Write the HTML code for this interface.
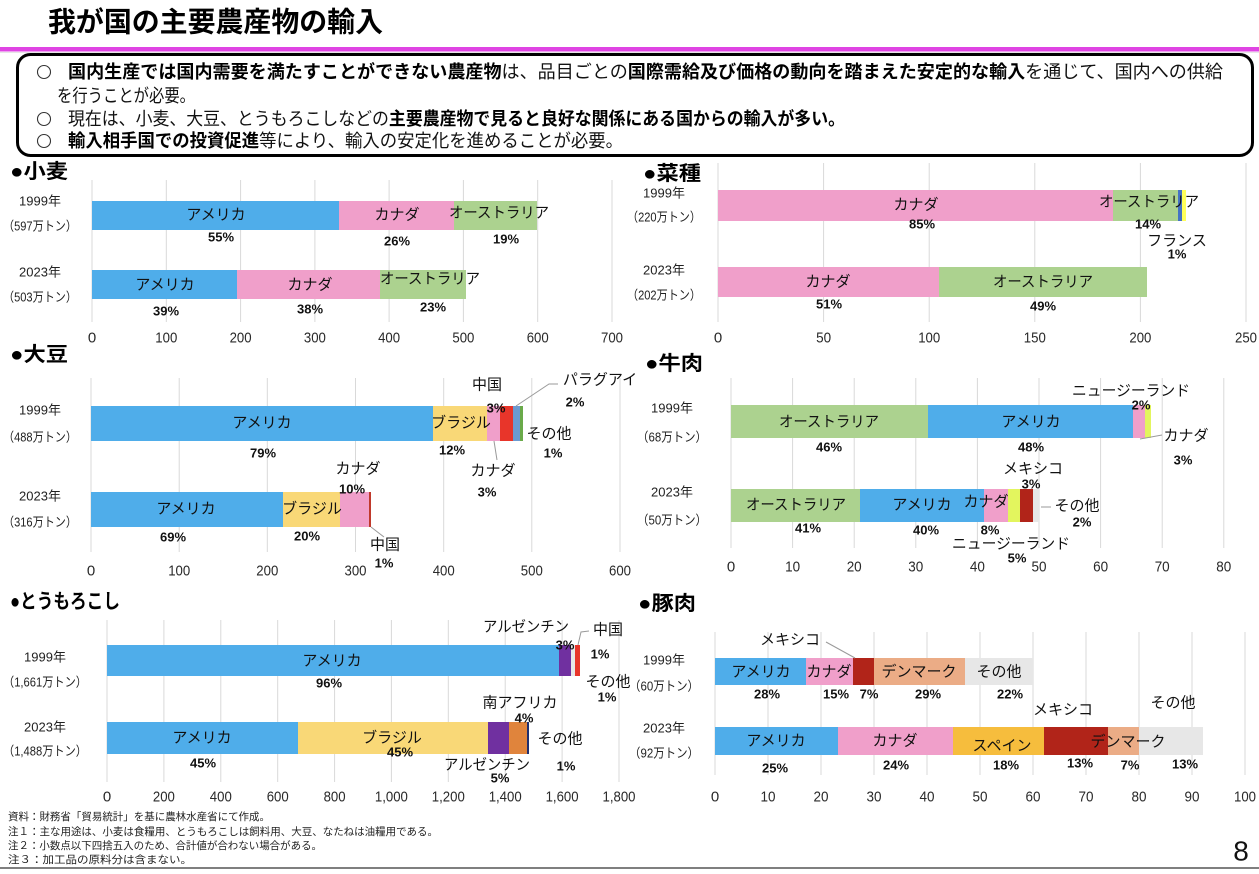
<!DOCTYPE html>
<html lang="ja">
<head>
<meta charset="utf-8">
<style>
  html,body{margin:0;padding:0;background:#fff;}
  body{width:1259px;height:874px;overflow:hidden;}
  svg{display:block;}
  text{font-family:"Liberation Sans","Noto Sans CJK JP",sans-serif;fill:#111;}
  .c{text-anchor:middle;dominant-baseline:central;}
  .m{dominant-baseline:central;}
  .bl{font-size:15px;}
  .pc{font-size:13px;font-weight:bold;}
  .yl{font-size:13px;fill:#222;}
  .tk{font-size:15px;fill:#2a2a2a;}
  .st{font-size:20px;font-weight:bold;fill:#000;}
  .hd{font-size:18px;}
  .b{font-weight:bold;fill:#000;}
  .ft{font-size:10.5px;fill:#222;}
  .g line{stroke:#d9d9d9;stroke-width:1;}
  .ld{stroke:#9a9a9a;stroke-width:1;fill:none;}
</style>
</head>
<body>
<svg width="1259" height="874" viewBox="0 0 1259 874" xmlns="http://www.w3.org/2000/svg">
<rect x="0" y="0" width="1259" height="874" fill="#fff"/>

<!-- ===== Header ===== -->
<text class="m" x="48" y="22" font-size="28" font-weight="bold" textLength="335" lengthAdjust="spacingAndGlyphs" style="fill:#000">我が国の主要農産物の輸入</text>
<rect x="0" y="47" width="1259" height="4.5" fill="#df44e3"/>
<rect x="0" y="52" width="1259" height="1" fill="#e6e6e6"/>
<rect x="17.5" y="54.5" width="1235" height="101" rx="13" ry="13" fill="#fff" stroke="#000" stroke-width="3"/>

<circle cx="44" cy="72" r="6.5" fill="none" stroke="#333" stroke-width="1.1"/>
<circle cx="44" cy="119" r="6.5" fill="none" stroke="#333" stroke-width="1.1"/>
<circle cx="44" cy="141" r="6.5" fill="none" stroke="#333" stroke-width="1.1"/>

<text class="hd m" x="68" y="72" textLength="1155" lengthAdjust="spacingAndGlyphs"><tspan class="b">国内生産では国内需要を満たすことができない農産物</tspan>は、品目ごとの<tspan class="b">国際需給及び価格の動向を踏まえた安定的な輸入</tspan>を通じて、国内への供給</text>
<text class="hd m" x="57" y="96" textLength="138" lengthAdjust="spacingAndGlyphs">を行うことが必要。</text>
<text class="hd m" x="68" y="119" textLength="777" lengthAdjust="spacingAndGlyphs">現在は、小麦、大豆、とうもろこしなどの<tspan class="b">主要農産物で見ると良好な関係にある国からの輸入が多い。</tspan></text>
<text class="hd m" x="68" y="141" textLength="555" lengthAdjust="spacingAndGlyphs"><tspan class="b">輸入相手国での投資促進</tspan>等により、輸入の安定化を進めることが必要。</text>

<!-- ===== Wheat 小麦 ===== -->
<text class="st m" x="10" y="172" textLength="58" lengthAdjust="spacingAndGlyphs">●小麦</text>
<g class="g">
<line x1="92" y1="180" x2="92" y2="322"/><line x1="166.3" y1="180" x2="166.3" y2="322"/><line x1="240.6" y1="180" x2="240.6" y2="322"/><line x1="314.9" y1="180" x2="314.9" y2="322"/><line x1="389.1" y1="180" x2="389.1" y2="322"/><line x1="463.4" y1="180" x2="463.4" y2="322"/><line x1="537.7" y1="180" x2="537.7" y2="322"/><line x1="612" y1="180" x2="612" y2="322"/>
</g>
<rect x="92" y="201" width="247" height="29" fill="#4fadea"/>
<rect x="339" y="201" width="115" height="29" fill="#f09fca"/>
<rect x="454" y="201" width="83" height="29" fill="#acd28f"/>
<rect x="92" y="270" width="145" height="29" fill="#4fadea"/>
<rect x="237" y="270" width="143" height="29" fill="#f09fca"/>
<rect x="380" y="270" width="86" height="29" fill="#acd28f"/>
<text class="yl c" x="40" y="201">1999年</text>
<text class="yl c" x="40" y="226" textLength="74" lengthAdjust="spacingAndGlyphs">（597万トン）</text>
<text class="yl c" x="40" y="272">2023年</text>
<text class="yl c" x="40" y="297" textLength="74" lengthAdjust="spacingAndGlyphs">（503万トン）</text>
<text class="bl c" x="216" y="215">アメリカ</text>
<text class="bl c" x="397" y="215">カナダ</text>
<text class="bl c" x="499" y="213" textLength="100" lengthAdjust="spacingAndGlyphs">オーストラリア</text>
<text class="bl c" x="165" y="285">アメリカ</text>
<text class="bl c" x="310" y="285">カナダ</text>
<text class="bl c" x="430" y="279" textLength="100" lengthAdjust="spacingAndGlyphs">オーストラリア</text>
<text class="pc c" x="221" y="237">55%</text>
<text class="pc c" x="397" y="241">26%</text>
<text class="pc c" x="506" y="239">19%</text>
<text class="pc c" x="166" y="311">39%</text>
<text class="pc c" x="310" y="309">38%</text>
<text class="pc c" x="433" y="307">23%</text>
<g>
<text class="tk c" x="92" y="338">0</text>
<text class="tk c" x="166.3" y="338" textLength="22" lengthAdjust="spacingAndGlyphs">100</text>
<text class="tk c" x="240.6" y="338" textLength="22" lengthAdjust="spacingAndGlyphs">200</text>
<text class="tk c" x="314.9" y="338" textLength="22" lengthAdjust="spacingAndGlyphs">300</text>
<text class="tk c" x="389.1" y="338" textLength="22" lengthAdjust="spacingAndGlyphs">400</text>
<text class="tk c" x="463.4" y="338" textLength="22" lengthAdjust="spacingAndGlyphs">500</text>
<text class="tk c" x="537.7" y="338" textLength="22" lengthAdjust="spacingAndGlyphs">600</text>
<text class="tk c" x="612" y="338" textLength="22" lengthAdjust="spacingAndGlyphs">700</text>
</g>

<!-- ===== Rapeseed 菜種 ===== -->
<text class="st m" x="643" y="174" textLength="58" lengthAdjust="spacingAndGlyphs">●菜種</text>
<g class="g">
<line x1="718" y1="163" x2="718" y2="322"/><line x1="823.6" y1="163" x2="823.6" y2="322"/><line x1="929.2" y1="163" x2="929.2" y2="322"/><line x1="1034.8" y1="163" x2="1034.8" y2="322"/><line x1="1140.4" y1="163" x2="1140.4" y2="322"/><line x1="1246" y1="163" x2="1246" y2="322"/>
</g>
<rect x="718" y="190" width="395" height="31" fill="#f09fca"/>
<rect x="1113" y="190" width="65" height="31" fill="#acd28f"/>
<rect x="1178" y="190" width="4" height="31" fill="#4472c4"/>
<rect x="1182" y="190" width="4" height="31" fill="#ffff5a"/>
<rect x="718" y="267" width="221" height="30" fill="#f09fca"/>
<rect x="939" y="267" width="208" height="30" fill="#acd28f"/>
<text class="yl c" x="664" y="193">1999年</text>
<text class="yl c" x="664" y="217" textLength="74" lengthAdjust="spacingAndGlyphs">（220万トン）</text>
<text class="yl c" x="664" y="270">2023年</text>
<text class="yl c" x="664" y="295" textLength="74" lengthAdjust="spacingAndGlyphs">（202万トン）</text>
<text class="bl c" x="916" y="205">カナダ</text>
<text class="bl c" x="1149" y="202" textLength="100" lengthAdjust="spacingAndGlyphs">オーストラリア</text>
<text class="bl c" x="1177" y="241">フランス</text>
<text class="bl c" x="828" y="282">カナダ</text>
<text class="bl c" x="1043" y="282" textLength="100" lengthAdjust="spacingAndGlyphs">オーストラリア</text>
<text class="pc c" x="922" y="224">85%</text>
<text class="pc c" x="1148" y="224">14%</text>
<text class="pc c" x="1177" y="254">1%</text>
<text class="pc c" x="829" y="304">51%</text>
<text class="pc c" x="1043" y="306">49%</text>
<g>
<text class="tk c" x="718" y="338">0</text>
<text class="tk c" x="823.6" y="338" textLength="15" lengthAdjust="spacingAndGlyphs">50</text>
<text class="tk c" x="929.2" y="338" textLength="22" lengthAdjust="spacingAndGlyphs">100</text>
<text class="tk c" x="1034.8" y="338" textLength="22" lengthAdjust="spacingAndGlyphs">150</text>
<text class="tk c" x="1140.4" y="338" textLength="22" lengthAdjust="spacingAndGlyphs">200</text>
<text class="tk c" x="1246" y="338" textLength="22" lengthAdjust="spacingAndGlyphs">250</text>
</g>

<!-- ===== Soybean 大豆 ===== -->
<text class="st m" x="10" y="355" textLength="58" lengthAdjust="spacingAndGlyphs">●大豆</text>
<g class="g">
<line x1="91" y1="378" x2="91" y2="552"/><line x1="179.2" y1="378" x2="179.2" y2="552"/><line x1="267.3" y1="378" x2="267.3" y2="552"/><line x1="355.5" y1="378" x2="355.5" y2="552"/><line x1="443.7" y1="378" x2="443.7" y2="552"/><line x1="531.8" y1="378" x2="531.8" y2="552"/><line x1="620" y1="378" x2="620" y2="552"/>
</g>
<rect x="91" y="406" width="342" height="35" fill="#4fadea"/>
<rect x="433" y="406" width="54" height="35" fill="#f9d877"/>
<rect x="487" y="406" width="13" height="35" fill="#f09fca"/>
<rect x="500" y="406" width="13" height="35" fill="#e8352a"/>
<rect x="513" y="406" width="7" height="35" fill="#6b9bd1"/>
<rect x="520" y="406" width="3" height="35" fill="#6aaa4a"/>
<rect x="91" y="492" width="192" height="35" fill="#4fadea"/>
<rect x="283" y="492" width="57" height="35" fill="#f9d877"/>
<rect x="340" y="492" width="29" height="35" fill="#f09fca"/>
<rect x="369" y="492" width="2" height="35" fill="#c0392b"/>
<text class="yl c" x="40" y="410">1999年</text>
<text class="yl c" x="40" y="437" textLength="74" lengthAdjust="spacingAndGlyphs">（488万トン）</text>
<text class="yl c" x="40" y="496">2023年</text>
<text class="yl c" x="40" y="522" textLength="74" lengthAdjust="spacingAndGlyphs">（316万トン）</text>
<text class="bl c" x="262" y="423">アメリカ</text>
<text class="bl c" x="461" y="423">ブラジル</text>
<text class="bl c" x="487" y="385">中国</text>
<text class="bl c" x="600" y="380">パラグアイ</text>
<text class="bl c" x="549" y="434">その他</text>
<text class="bl c" x="493" y="471">カナダ</text>
<text class="bl c" x="186" y="509">アメリカ</text>
<text class="bl c" x="312" y="509">ブラジル</text>
<text class="bl c" x="358" y="469">カナダ</text>
<text class="bl c" x="385" y="545">中国</text>
<text class="pc c" x="263" y="453">79%</text>
<text class="pc c" x="452" y="450">12%</text>
<text class="pc c" x="496" y="408">3%</text>
<text class="pc c" x="575" y="402">2%</text>
<text class="pc c" x="553" y="453">1%</text>
<text class="pc c" x="487" y="492">3%</text>
<text class="pc c" x="173" y="537">69%</text>
<text class="pc c" x="307" y="536">20%</text>
<text class="pc c" x="352" y="489">10%</text>
<text class="pc c" x="384" y="563">1%</text>
<polyline class="ld" points="516,406 549,384 558,384"/>
<line class="ld" x1="494" y1="441" x2="497" y2="460"/>
<line class="ld" x1="371" y1="527" x2="384" y2="537"/>
<g>
<text class="tk c" x="91" y="571">0</text>
<text class="tk c" x="179.2" y="571" textLength="22" lengthAdjust="spacingAndGlyphs">100</text>
<text class="tk c" x="267.3" y="571" textLength="22" lengthAdjust="spacingAndGlyphs">200</text>
<text class="tk c" x="355.5" y="571" textLength="22" lengthAdjust="spacingAndGlyphs">300</text>
<text class="tk c" x="443.7" y="571" textLength="22" lengthAdjust="spacingAndGlyphs">400</text>
<text class="tk c" x="531.8" y="571" textLength="22" lengthAdjust="spacingAndGlyphs">500</text>
<text class="tk c" x="620" y="571" textLength="22" lengthAdjust="spacingAndGlyphs">600</text>
</g>

<!-- ===== Beef 牛肉 ===== -->
<text class="st m" x="645" y="364" textLength="58" lengthAdjust="spacingAndGlyphs">●牛肉</text>
<g class="g">
<line x1="731" y1="378" x2="731" y2="548"/><line x1="792.6" y1="378" x2="792.6" y2="548"/><line x1="854.2" y1="378" x2="854.2" y2="548"/><line x1="915.8" y1="378" x2="915.8" y2="548"/><line x1="977.4" y1="378" x2="977.4" y2="548"/><line x1="1039" y1="378" x2="1039" y2="548"/><line x1="1100.6" y1="378" x2="1100.6" y2="548"/><line x1="1162.2" y1="378" x2="1162.2" y2="548"/><line x1="1223.8" y1="378" x2="1223.8" y2="548"/>
</g>
<rect x="731" y="405" width="197" height="33" fill="#acd28f"/>
<rect x="928" y="405" width="205" height="33" fill="#4fadea"/>
<rect x="1133" y="405" width="12" height="33" fill="#f09fca"/>
<rect x="1145" y="405" width="6" height="33" fill="#e3f55e"/>
<rect x="731" y="489" width="129" height="33" fill="#acd28f"/>
<rect x="860" y="489" width="124" height="33" fill="#4fadea"/>
<rect x="984" y="489" width="24" height="33" fill="#f09fca"/>
<rect x="1008" y="489" width="12" height="33" fill="#e3f55e"/>
<rect x="1020" y="489" width="13" height="33" fill="#b12419"/>
<rect x="1033" y="489" width="6" height="33" fill="#e7e7e7"/>
<text class="yl c" x="672" y="408">1999年</text>
<text class="yl c" x="672" y="437" textLength="70" lengthAdjust="spacingAndGlyphs">（68万トン）</text>
<text class="yl c" x="672" y="492">2023年</text>
<text class="yl c" x="672" y="520" textLength="70" lengthAdjust="spacingAndGlyphs">（50万トン）</text>
<text class="bl c" x="829" y="422" textLength="100" lengthAdjust="spacingAndGlyphs">オーストラリア</text>
<text class="bl c" x="1031" y="422">アメリカ</text>
<text class="bl c" x="1131" y="391" textLength="118" lengthAdjust="spacingAndGlyphs">ニュージーランド</text>
<text class="bl c" x="1186" y="436">カナダ</text>
<text class="bl c" x="796" y="505" textLength="100" lengthAdjust="spacingAndGlyphs">オーストラリア</text>
<text class="bl c" x="922" y="505">アメリカ</text>
<text class="bl c" x="986" y="502">カナダ</text>
<text class="bl c" x="1033" y="469">メキシコ</text>
<text class="bl c" x="1077" y="506">その他</text>
<text class="bl c" x="1011" y="544" textLength="118" lengthAdjust="spacingAndGlyphs">ニュージーランド</text>
<text class="pc c" x="829" y="447">46%</text>
<text class="pc c" x="1031" y="447">48%</text>
<text class="pc c" x="1141" y="405">2%</text>
<text class="pc c" x="1183" y="460">3%</text>
<text class="pc c" x="808" y="528">41%</text>
<text class="pc c" x="926" y="530">40%</text>
<text class="pc c" x="990" y="530">8%</text>
<text class="pc c" x="1031" y="484">3%</text>
<text class="pc c" x="1082" y="522">2%</text>
<text class="pc c" x="1017" y="558">5%</text>
<line class="ld" x1="1140" y1="439" x2="1162" y2="435"/>
<line class="ld" x1="1041" y1="507" x2="1051" y2="507"/>
<g>
<text class="tk c" x="731" y="567">0</text>
<text class="tk c" x="792.6" y="567" textLength="15" lengthAdjust="spacingAndGlyphs">10</text>
<text class="tk c" x="854.2" y="567" textLength="15" lengthAdjust="spacingAndGlyphs">20</text>
<text class="tk c" x="915.8" y="567" textLength="15" lengthAdjust="spacingAndGlyphs">30</text>
<text class="tk c" x="977.4" y="567" textLength="15" lengthAdjust="spacingAndGlyphs">40</text>
<text class="tk c" x="1039" y="567" textLength="15" lengthAdjust="spacingAndGlyphs">50</text>
<text class="tk c" x="1100.6" y="567" textLength="15" lengthAdjust="spacingAndGlyphs">60</text>
<text class="tk c" x="1162.2" y="567" textLength="15" lengthAdjust="spacingAndGlyphs">70</text>
<text class="tk c" x="1223.8" y="567" textLength="15" lengthAdjust="spacingAndGlyphs">80</text>
</g>

<!-- ===== Corn とうもろこし ===== -->
<text class="st m" x="10" y="602" textLength="110" lengthAdjust="spacingAndGlyphs">●とうもろこし</text>
<g class="g">
<line x1="107" y1="620" x2="107" y2="782"/><line x1="163.9" y1="620" x2="163.9" y2="782"/><line x1="220.8" y1="620" x2="220.8" y2="782"/><line x1="277.7" y1="620" x2="277.7" y2="782"/><line x1="334.6" y1="620" x2="334.6" y2="782"/><line x1="391.4" y1="620" x2="391.4" y2="782"/><line x1="448.3" y1="620" x2="448.3" y2="782"/><line x1="505.2" y1="620" x2="505.2" y2="782"/><line x1="562.1" y1="620" x2="562.1" y2="782"/><line x1="619" y1="620" x2="619" y2="782"/>
</g>
<rect x="107" y="645" width="452" height="31" fill="#4fadea"/>
<rect x="559" y="645" width="12" height="31" fill="#7030a0"/>
<rect x="571" y="645" width="4" height="31" fill="#e7e7e7"/>
<rect x="575" y="645" width="5" height="31" fill="#e8352a"/>
<rect x="107" y="722" width="191" height="32" fill="#4fadea"/>
<rect x="298" y="722" width="190" height="32" fill="#f9d877"/>
<rect x="488" y="722" width="21" height="32" fill="#7030a0"/>
<rect x="509" y="722" width="18" height="32" fill="#e0843c"/>
<rect x="527" y="722" width="2" height="32" fill="#203070"/>
<text class="yl c" x="45" y="657">1999年</text>
<text class="yl c" x="45" y="682" textLength="84" lengthAdjust="spacingAndGlyphs">（1,661万トン）</text>
<text class="yl c" x="45" y="727">2023年</text>
<text class="yl c" x="45" y="751" textLength="84" lengthAdjust="spacingAndGlyphs">（1,488万トン）</text>
<text class="bl c" x="332" y="661">アメリカ</text>
<text class="bl c" x="526" y="627" textLength="86" lengthAdjust="spacingAndGlyphs">アルゼンチン</text>
<text class="bl c" x="608" y="630">中国</text>
<text class="bl c" x="608" y="682">その他</text>
<text class="bl c" x="202" y="738">アメリカ</text>
<text class="bl c" x="392" y="738">ブラジル</text>
<text class="bl c" x="520" y="703" textLength="75" lengthAdjust="spacingAndGlyphs">南アフリカ</text>
<text class="bl c" x="560" y="739">その他</text>
<text class="bl c" x="487" y="765" textLength="86" lengthAdjust="spacingAndGlyphs">アルゼンチン</text>
<text class="pc c" x="329" y="683">96%</text>
<text class="pc c" x="565" y="645">3%</text>
<text class="pc c" x="600" y="654">1%</text>
<text class="pc c" x="607" y="697">1%</text>
<text class="pc c" x="203" y="763">45%</text>
<text class="pc c" x="400" y="752">45%</text>
<text class="pc c" x="524" y="718">4%</text>
<text class="pc c" x="566" y="766">1%</text>
<text class="pc c" x="500" y="778">5%</text>
<polyline class="ld" points="578,645 581,632 589,631"/>
<g>
<text class="tk c" x="107" y="797">0</text>
<text class="tk c" x="163.9" y="797" textLength="22" lengthAdjust="spacingAndGlyphs">200</text>
<text class="tk c" x="220.8" y="797" textLength="22" lengthAdjust="spacingAndGlyphs">400</text>
<text class="tk c" x="277.7" y="797" textLength="22" lengthAdjust="spacingAndGlyphs">600</text>
<text class="tk c" x="334.6" y="797" textLength="22" lengthAdjust="spacingAndGlyphs">800</text>
<text class="tk c" x="391.4" y="797" textLength="33" lengthAdjust="spacingAndGlyphs">1,000</text>
<text class="tk c" x="448.3" y="797" textLength="33" lengthAdjust="spacingAndGlyphs">1,200</text>
<text class="tk c" x="505.2" y="797" textLength="33" lengthAdjust="spacingAndGlyphs">1,400</text>
<text class="tk c" x="562.1" y="797" textLength="33" lengthAdjust="spacingAndGlyphs">1,600</text>
<text class="tk c" x="619" y="797" textLength="33" lengthAdjust="spacingAndGlyphs">1,800</text>
</g>

<!-- ===== Pork 豚肉 ===== -->
<text class="st m" x="638" y="604" textLength="58" lengthAdjust="spacingAndGlyphs">●豚肉</text>
<g class="g">
<line x1="715" y1="632" x2="715" y2="775"/><line x1="768" y1="632" x2="768" y2="775"/><line x1="821" y1="632" x2="821" y2="775"/><line x1="874" y1="632" x2="874" y2="775"/><line x1="927" y1="632" x2="927" y2="775"/><line x1="980" y1="632" x2="980" y2="775"/><line x1="1033" y1="632" x2="1033" y2="775"/><line x1="1086" y1="632" x2="1086" y2="775"/><line x1="1139" y1="632" x2="1139" y2="775"/><line x1="1192" y1="632" x2="1192" y2="775"/><line x1="1245" y1="632" x2="1245" y2="775"/>
</g>
<rect x="715" y="658" width="91" height="27" fill="#4fadea"/>
<rect x="806" y="658" width="47" height="27" fill="#f09fca"/>
<rect x="853" y="658" width="21" height="27" fill="#b12419"/>
<rect x="874" y="658" width="91" height="27" fill="#ebac86"/>
<rect x="965" y="658" width="68" height="27" fill="#e7e7e7"/>
<rect x="715" y="727" width="123" height="28" fill="#4fadea"/>
<rect x="838" y="727" width="115" height="28" fill="#f09fca"/>
<rect x="953" y="727" width="91" height="28" fill="#f6bd3d"/>
<rect x="1044" y="727" width="64" height="28" fill="#b12419"/>
<rect x="1108" y="727" width="31" height="28" fill="#ebac86"/>
<rect x="1139" y="727" width="64" height="28" fill="#e7e7e7"/>
<text class="yl c" x="664" y="660">1999年</text>
<text class="yl c" x="664" y="686" textLength="70" lengthAdjust="spacingAndGlyphs">（60万トン）</text>
<text class="yl c" x="664" y="728">2023年</text>
<text class="yl c" x="664" y="753" textLength="70" lengthAdjust="spacingAndGlyphs">（92万トン）</text>
<text class="bl c" x="761" y="672">アメリカ</text>
<text class="bl c" x="829" y="672">カナダ</text>
<text class="bl c" x="919" y="672">デンマーク</text>
<text class="bl c" x="999" y="672">その他</text>
<text class="bl c" x="790" y="640">メキシコ</text>
<text class="bl c" x="776" y="741">アメリカ</text>
<text class="bl c" x="895" y="741">カナダ</text>
<text class="bl c" x="1002" y="746">スペイン</text>
<text class="bl c" x="1128" y="742">デンマーク</text>
<text class="bl c" x="1063" y="710">メキシコ</text>
<text class="bl c" x="1173" y="703">その他</text>
<text class="pc c" x="767" y="694">28%</text>
<text class="pc c" x="836" y="694">15%</text>
<text class="pc c" x="869" y="694">7%</text>
<text class="pc c" x="928" y="694">29%</text>
<text class="pc c" x="1010" y="694">22%</text>
<text class="pc c" x="775" y="768">25%</text>
<text class="pc c" x="896" y="765">24%</text>
<text class="pc c" x="1006" y="765">18%</text>
<text class="pc c" x="1080" y="763">13%</text>
<text class="pc c" x="1130" y="765">7%</text>
<text class="pc c" x="1185" y="764">13%</text>
<line class="ld" x1="826" y1="642" x2="855" y2="658"/>
<g>
<text class="tk c" x="715" y="797">0</text>
<text class="tk c" x="768" y="797" textLength="15" lengthAdjust="spacingAndGlyphs">10</text>
<text class="tk c" x="821" y="797" textLength="15" lengthAdjust="spacingAndGlyphs">20</text>
<text class="tk c" x="874" y="797" textLength="15" lengthAdjust="spacingAndGlyphs">30</text>
<text class="tk c" x="927" y="797" textLength="15" lengthAdjust="spacingAndGlyphs">40</text>
<text class="tk c" x="980" y="797" textLength="15" lengthAdjust="spacingAndGlyphs">50</text>
<text class="tk c" x="1033" y="797" textLength="15" lengthAdjust="spacingAndGlyphs">60</text>
<text class="tk c" x="1086" y="797" textLength="15" lengthAdjust="spacingAndGlyphs">70</text>
<text class="tk c" x="1139" y="797" textLength="15" lengthAdjust="spacingAndGlyphs">80</text>
<text class="tk c" x="1192" y="797" textLength="15" lengthAdjust="spacingAndGlyphs">90</text>
<text class="tk c" x="1245" y="797" textLength="22" lengthAdjust="spacingAndGlyphs">100</text>
</g>

<!-- ===== Footer ===== -->
<text class="ft m" x="8" y="817" textLength="262" lengthAdjust="spacingAndGlyphs">資料：財務省「貿易統計」を基に農林水産省にて作成。</text>
<text class="ft m" x="8" y="832" textLength="430" lengthAdjust="spacingAndGlyphs">注１：主な用途は、小麦は食糧用、とうもろこしは飼料用、大豆、なたねは油糧用である。</text>
<text class="ft m" x="8" y="846" textLength="314" lengthAdjust="spacingAndGlyphs">注２：小数点以下四捨五入のため、合計値が合わない場合がある。</text>
<text class="ft m" x="8" y="860" textLength="184" lengthAdjust="spacingAndGlyphs">注３：加工品の原料分は含まない。</text>
<text class="c" x="1241" y="851" font-size="28" style="fill:#111">8</text>
<rect x="0" y="867" width="1259" height="2" fill="#7f7f7f"/>
</svg>
</body>
</html>
